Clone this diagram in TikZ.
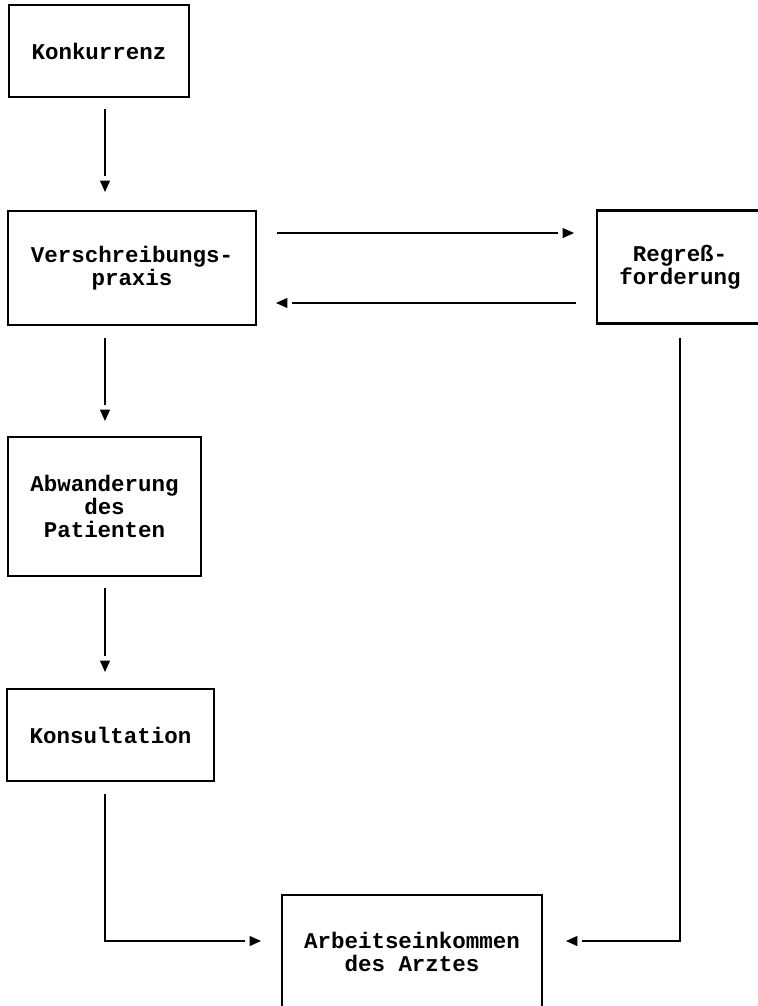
\documentclass[tikz,border=0pt]{standalone}
\usepackage{fontspec}
\setmainfont{Liberation Mono}
\usepackage{tikz}
\usetikzlibrary{arrows.meta,positioning}

\pgfdeclarearrow{
  name = GapTriangle,
  setup code = {
    \pgfarrowssettipend{6.4pt}
    \pgfarrowssetbackend{0pt}
    \pgfarrowssetlineend{-2.8pt}
    \pgfarrowshullpoint{6.4pt}{0pt}
    \pgfarrowsupperhullpoint{0pt}{2.9pt}
  },
  drawing code = {
    \pgfpathmoveto{\pgfpoint{6.4pt}{0pt}}
    \pgfpathlineto{\pgfpoint{0pt}{2.9pt}}
    \pgfpathlineto{\pgfpoint{0pt}{-2.9pt}}
    \pgfpathclose
    \pgfusepathqfill
  }
}

\begin{document}
\begin{tikzpicture}[x=0.02cm, y=-0.02cm,
  box/.style={rectangle, draw, line width=1.2pt, align=center, inner sep=0pt, font=\fontsize{12.8}{13.2}\selectfont\bfseries},
  arrow/.style={line width=1.2pt, -GapTriangle}]

  \useasboundingbox (0,0) rectangle (757,1006);
  \coordinate (axis) at (105,0);

  \node [box, minimum width=3.6cm, minimum height=1.84cm] (konkurrenz) at (99,51) {Konkurrenz};
  \node [box, minimum width=4.96cm, minimum height=2.28cm] (verschreibung) at (132,268) {Verschreibungs-\\praxis};
  \node [box, minimum width=3.32cm, minimum height=2.26cm] (regress) at (680,267) {Regreß-\\forderung};
  \node [box, minimum width=3.86cm, minimum height=2.78cm] (abwanderung) at (104.5,506.5) {Abwanderung\\des\\Patienten};
  \node [box, minimum width=4.14cm, minimum height=1.84cm] (konsultation) at (110.5,735) {Konsultation};
  \node [box, minimum width=5.2cm, minimum height=2.28cm] (einkommen) at (412,952) {Arbeitseinkommen\\des Arztes};

  \draw [arrow, shorten <=0.22cm, shorten >=0.36cm] (konkurrenz.south -| axis) -- (verschreibung.north -| axis);
  \draw [arrow, shorten <=0.24cm, shorten >=0.3cm] (verschreibung.south -| axis) -- (abwanderung.north -| axis);
  \draw [arrow, shorten <=0.22cm, shorten >=0.32cm] (abwanderung.south -| axis) -- (konsultation.north -| axis);
  \draw [arrow, shorten <=0.4cm, shorten >=0.44cm] ([yshift=0.7cm]verschreibung.east) -- ([yshift=0.7cm]verschreibung.east -| regress.west);
  \draw [arrow, shorten <=0.4cm, shorten >=0.38cm] ([yshift=-0.7cm]verschreibung.east -| regress.west) -- ([yshift=-0.7cm]verschreibung.east);
  \draw [arrow, shorten <=0.24cm, shorten >=0.4cm] (konsultation.south -| axis) |- ([yshift=0.22cm]einkommen.west);
  \draw [arrow, shorten <=0.26cm, shorten >=0.46cm] (regress.south) |- ([yshift=0.22cm]einkommen.east);
\end{tikzpicture}
\end{document}
